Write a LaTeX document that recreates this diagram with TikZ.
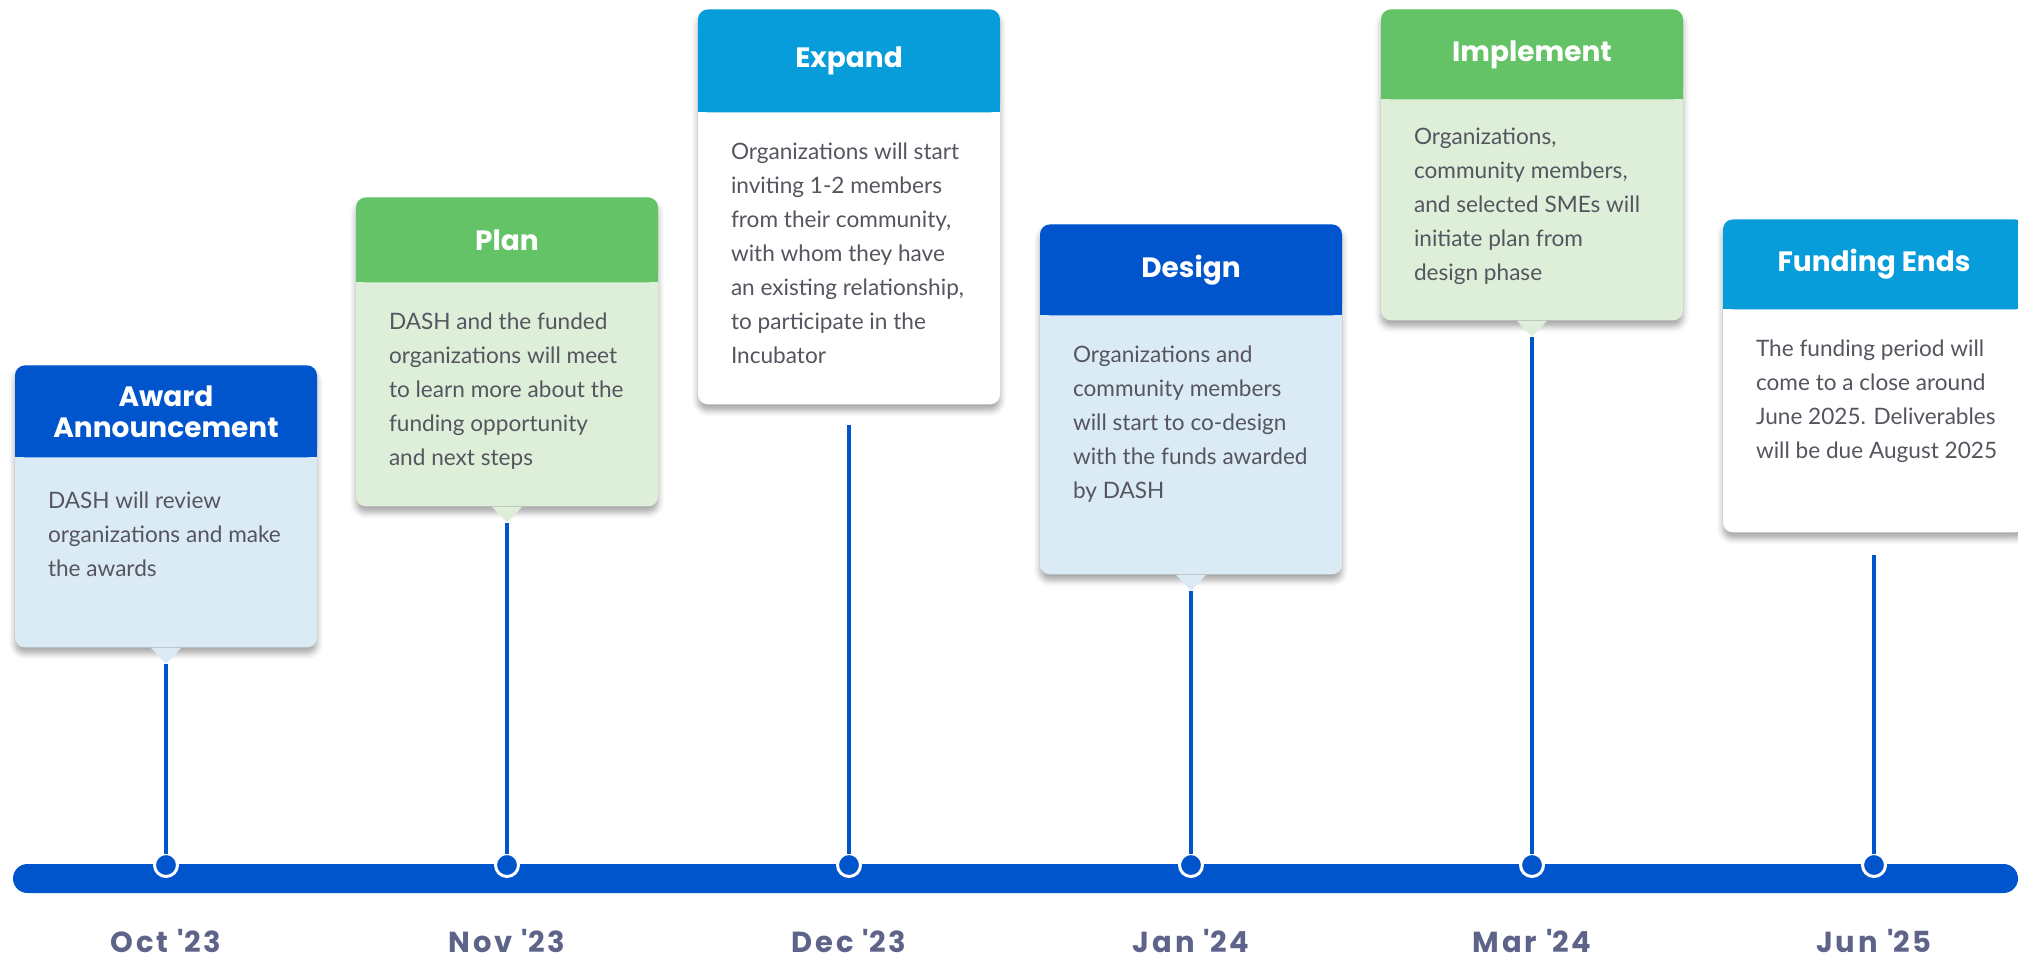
\documentclass[tikz,border=0pt]{standalone}
\usepackage{fontspec}
\setmainfont{Lato}
\newfontfamily\headfont{Poppins}
\newfontfamily\datefont{Poppins}[LetterSpace=10]
\usetikzlibrary{positioning,shadows.blur}
\definecolor{dblue}{HTML}{0055CC}
\definecolor{lblue}{HTML}{079DDA}
\definecolor{green}{HTML}{63C366}
\definecolor{bluebody}{HTML}{DAEBF5}
\definecolor{greenbody}{HTML}{DDEFD9}
\definecolor{bodygray}{HTML}{55555F}
\definecolor{dategray}{HTML}{5E6389}

\begin{document}
\begin{tikzpicture}[x=0.5pt,y=-0.5pt]
    \tikzstyle{card} = [rectangle,rounded corners=5pt,minimum width=151pt,anchor=north,inner sep=0pt,blur shadow={shadow xshift=0pt,shadow yshift=-3pt,shadow blur radius=3pt,shadow opacity=35}]
    \tikzstyle{head} = [rectangle,rounded corners=5pt,minimum width=151pt,anchor=north,inner sep=0pt,text=white,align=center,font=\headfont\bfseries\fontsize{14}{15.5}\selectfont]
    \tikzstyle{body} = [anchor=north west,inner sep=0pt,align=left,text=bodygray,font=\fontsize{11.3}{17}\selectfont]
    \tikzstyle{dot} = [circle,fill=dblue,draw=white,line width=1.5pt,minimum size=11.5pt,inner sep=0pt]
    \tikzstyle{stem} = [dblue,line width=2pt,shorten >=-1pt]
    \tikzstyle{date} = [inner sep=0pt,text=dategray,font=\datefont\bfseries\fontsize{14.5}{17}\selectfont]
    \useasboundingbox (0,0) rectangle (2018,963);
      % timeline bar
      \node[fill=dblue,rounded corners=7.25pt,minimum width=1002.5pt,minimum height=14.5pt,inner sep=0pt] (timeline) at (1015.5,878.5) {};
      % award announcement
      \node[card,fill=bluebody,minimum height=141pt] (award) at (166,365) {};
      \fill[dblue] ([yshift=-23pt]award.north west) rectangle ([yshift=-46pt]award.north east);
      \node[head,fill=dblue,minimum height=46pt] (award-head) at (award.north) {Award\\Announcement};
      \node[body] (award-text) at ([xshift=16.5pt,yshift=-17pt]award-head.south west) {DASH will review\\organizations and make\\the awards};
      \fill[bluebody] ([xshift=-7.5pt]award.south) -- ([xshift=7.5pt]award.south) -- ([yshift=-8pt]award.south) coordinate (award-tip) -- cycle;
      % plan
      \node[card,fill=greenbody,minimum height=154.5pt] (plan) at (507,197) {};
      \fill[green] ([yshift=-21pt]plan.north west) rectangle ([yshift=-42.5pt]plan.north east);
      \node[head,fill=green,minimum height=42.5pt] (plan-head) at (plan.north) {Plan};
      \node[body] (plan-text) at ([xshift=16.5pt,yshift=-15pt]plan-head.south west) {DASH and the funded\\organizations will meet\\to learn more about the\\funding opportunity\\and next steps};
      \fill[greenbody] ([xshift=-7.5pt]plan.south) -- ([xshift=7.5pt]plan.south) -- ([yshift=-8pt]plan.south) coordinate (plan-tip) -- cycle;
      % expand
      \node[card,fill=white,minimum height=197.5pt] (expand) at (849,9) {};
      \fill[lblue] ([yshift=-25pt]expand.north west) rectangle ([yshift=-51.5pt]expand.north east);
      \node[head,fill=lblue,minimum height=51.5pt] (expand-head) at (expand.north) {Expand};
      \node[body] (expand-text) at ([xshift=16.5pt,yshift=-15pt]expand-head.south west) {Organizations will start\\inviting 1-2 members\\from their community,\\with whom they have\\an existing relationship,\\to participate in the\\Incubator};
      \coordinate (expand-tip) at ([yshift=-10pt]expand.south);
      % design
      \node[card,fill=bluebody,minimum height=175pt] (design) at (1191,224) {};
      \fill[dblue] ([yshift=-22pt]design.north west) rectangle ([yshift=-45.5pt]design.north east);
      \node[head,fill=dblue,minimum height=45.5pt] (design-head) at (design.north) {Design};
      \node[body] (design-text) at ([xshift=16.5pt,yshift=-15pt]design-head.south west) {Organizations and\\community members\\will start to co-design\\with the funds awarded\\by DASH};
      \fill[bluebody] ([xshift=-7.5pt]design.south) -- ([xshift=7.5pt]design.south) -- ([yshift=-8pt]design.south) coordinate (design-tip) -- cycle;
      % implement
      \node[card,fill=greenbody,minimum height=155.5pt] (implement) at (1532,9) {};
      \fill[green] ([yshift=-22pt]implement.north west) rectangle ([yshift=-45pt]implement.north east);
      \node[head,fill=green,minimum height=45pt] (implement-head) at (implement.north) {Implement};
      \node[body] (implement-text) at ([xshift=16.5pt,yshift=-14pt]implement-head.south west) {Organizations,\\community members,\\and selected SMEs will\\initiate plan from\\design phase};
      \fill[greenbody] ([xshift=-7.5pt]implement.south) -- ([xshift=7.5pt]implement.south) -- ([yshift=-8pt]implement.south) coordinate (implement-tip) -- cycle;
      % funding ends
      \node[card,fill=white,minimum height=156.5pt] (funding) at (1874,219) {};
      \fill[lblue] ([yshift=-22pt]funding.north west) rectangle ([yshift=-45pt]funding.north east);
      \node[head,fill=lblue,minimum height=45pt] (funding-head) at (funding.north) {Funding Ends};
      \node[body] (funding-text) at ([xshift=16.5pt,yshift=-15pt]funding-head.south west) {The funding period will\\come to a close around\\June 2025. Deliverables\\will be due August 2025};
      \coordinate (funding-tip) at ([yshift=-11pt]funding.south);
      % dots and dates
      \node[dot] (award-dot) at (166,865) {};
      \node[dot] (plan-dot) at (507,865) {};
      \node[dot] (expand-dot) at (849,865) {};
      \node[dot] (design-dot) at (1191,865) {};
      \node[dot] (implement-dot) at (1532,865) {};
      \node[dot] (funding-dot) at (1874,865) {};
      \foreach \p in {award,plan,expand,design,implement,funding} \draw[stem] (\p-tip) -- (\p-dot);
      \node[date] (award-date) at (166,941) {Oct \textquotesingle23};
      \node[date] (plan-date) at (507,941) {Nov \textquotesingle23};
      \node[date] (expand-date) at (849,941) {Dec \textquotesingle23};
      \node[date] (design-date) at (1191,941) {Jan \textquotesingle24};
      \node[date] (implement-date) at (1532,941) {Mar \textquotesingle24};
      \node[date] (funding-date) at (1874,941) {Jun \textquotesingle25};
  \end{tikzpicture}
\end{document}
